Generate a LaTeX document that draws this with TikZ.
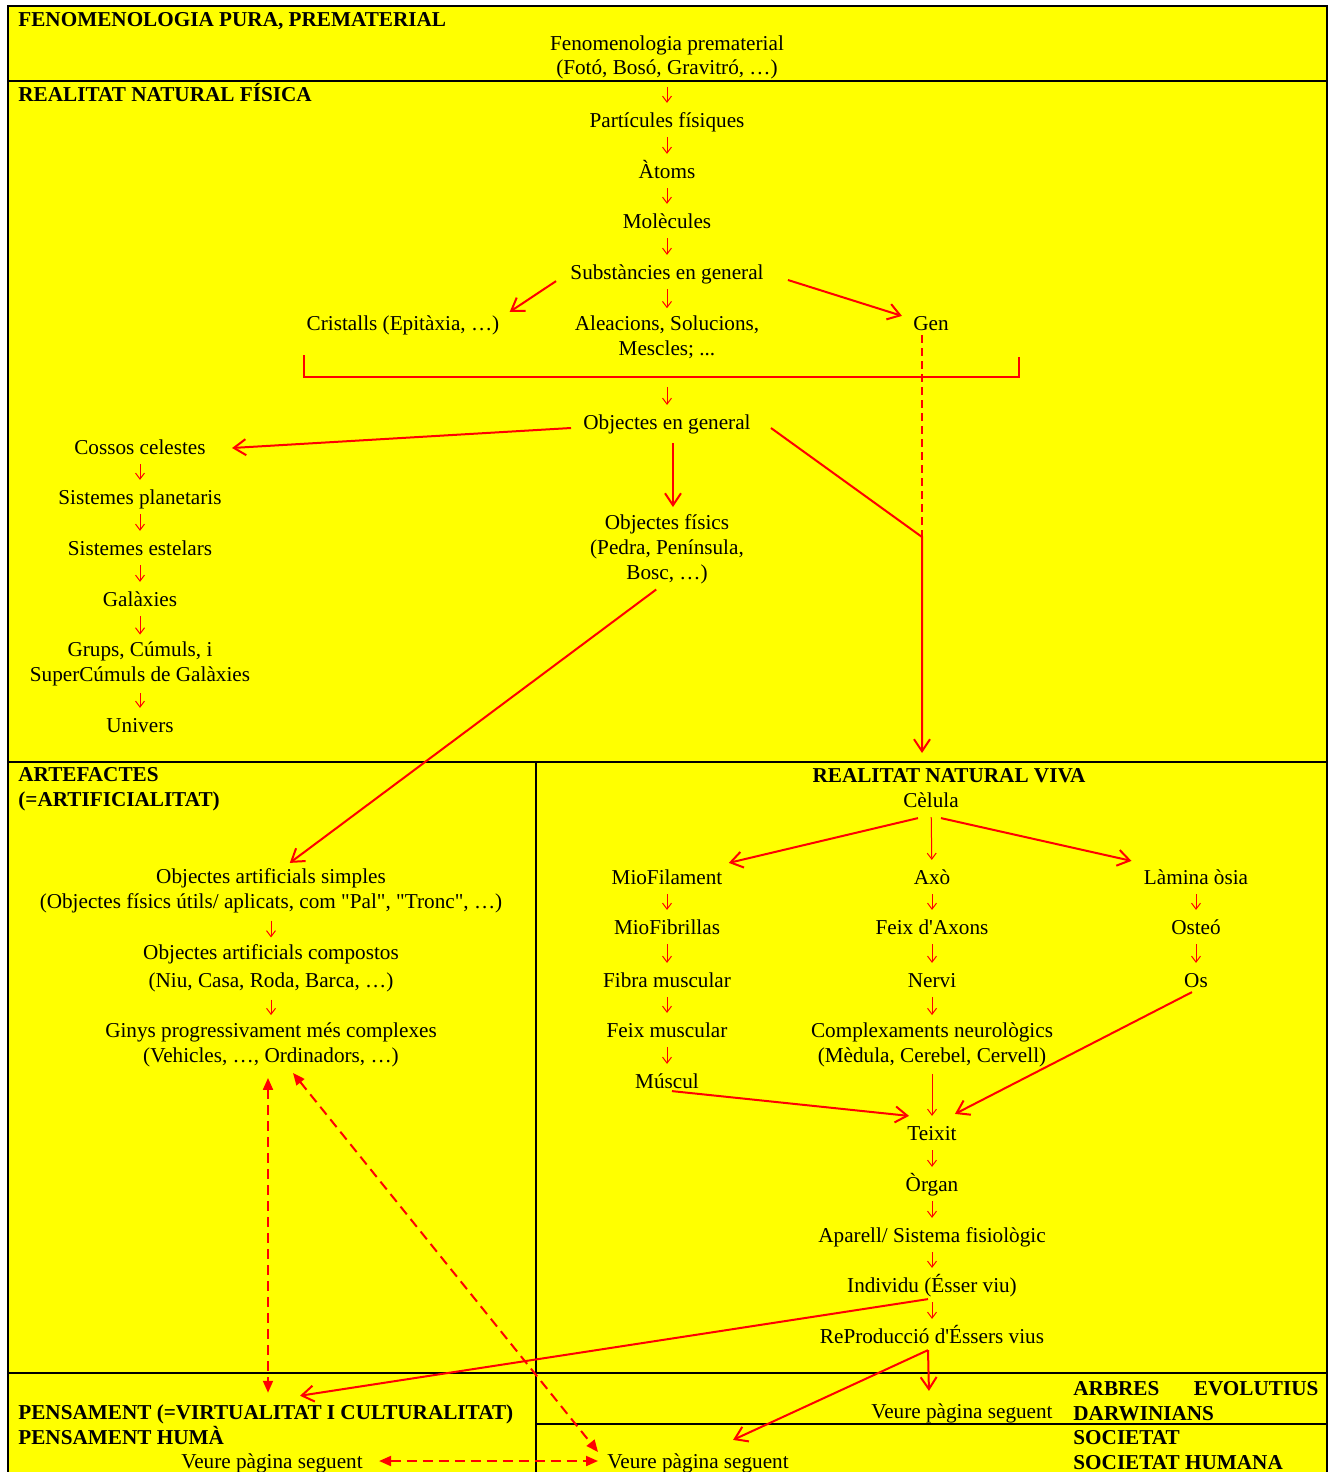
\documentclass[tikz,border=0pt]{standalone}
\usepackage{fontspec}
\setmainfont{Liberation Serif}[Ligatures=TeXOff]
\usetikzlibrary{arrows.meta,calc}
\definecolor{ylw}{RGB}{255,255,0}
\definecolor{rd}{RGB}{255,0,0}
\tikzset{
  tb/.style={inner sep=1pt, align=center, font=\fontsize{10.6}{12.4}\selectfont},
  t/.style={tb, text height=8.5pt, text depth=1.2pt},
  hdb/.style={inner sep=1pt, font=\fontsize{10.6}{12.4}\selectfont\bfseries},
  hd/.style={hdb, text height=8.5pt, text depth=1.2pt},
  sarr/.style={draw=rd, line width=0.5pt, -{Straight Barb[length=3pt,width=4.5pt]}, shorten <=2.5pt, shorten >=2.5pt},
  barr/.style={draw=rd, line width=1pt, -{Straight Barb[length=6pt,width=8pt]}},
  dline/.style={draw=rd, line width=1pt, dash pattern=on 4pt off 2.5pt},
  darr/.style={draw=rd, line width=1pt, dash pattern=on 5pt off 3pt, {Triangle[length=6pt,width=5pt]}-{Triangle[length=6pt,width=5pt]}},
  grid/.style={draw=black, line width=1.1pt},
}
\begin{document}
\begin{tikzpicture}[x=0.5pt,y=-0.5pt]
\useasboundingbox (0,0) rectangle (1328,1472);
\fill[ylw] (8,6) rectangle (1327,1472);
% grid lines
\draw[grid] (8,1472) -- (8,6) -- (1327,6) -- (1327,1472);
\draw[grid] (8,81) -- (1327,81);
\draw[grid] (8,762) -- (1327,762);
\draw[grid] (536,762) -- (536,1472);
\draw[grid] (8,1373) -- (1327,1373);
\draw[grid] (536,1424) -- (1327,1424);

% headings
\node[hd, anchor=west] (h1) at (16,19) {FENOMENOLOGIA PURA, PREMATERIAL};
\node[hd, anchor=west] (h2) at (16,94) {REALITAT NATURAL FÍSICA};
\node[hdb, anchor=west, align=left] (h3) at (16,789.5) {ARTEFACTES\\(=ARTIFICIALITAT)};
\node[hd] (h4) at (949,775) {REALITAT NATURAL VIVA};
\node[hdb, anchor=west, align=left] (h5) at (16,1425) {PENSAMENT (=VIRTUALITAT I CULTURALITAT)\\PENSAMENT HUMÀ};
\node[hdb, anchor=west, align=left, text width=122.5pt, inner sep=0pt] (h6) at (1073,1401) {ARBRES\hfill EVOLUTIUS\\DARWINIANS};
\node[hdb, anchor=west, align=left] (h7) at (1071,1450) {SOCIETAT\\SOCIETAT HUMANA};

% physical reality
\node[tb] (fen) at (667,57.5) {Fenomenologia prematerial\\(Fotó, Bosó, Gravitró, …)};
\node[t] (part) at (667,120) {Partícules físiques};
\node[t] (atoms) at (667,171) {Àtoms};
\node[t] (molec) at (667,221) {Molècules};
\node[t] (subst) at (667,272) {Substàncies en general};
\node[t] (crist) at (403,323) {Cristalls (Epitàxia, …)};
\node[tb] (alea) at (667,337) {Aleacions, Solucions,\\Mescles; ...};
\node[t] (gen) at (931,323) {Gen};
\node[t] (objg) at (667,422) {Objectes en general};
\node[t] (cossos) at (140,447) {Cossos celestes};
\node[t] (splan) at (140,497) {Sistemes planetaris};
\node[t] (sest) at (140,548) {Sistemes estelars};
\node[t] (gal) at (140,599) {Galàxies};
\node[tb] (grups) at (140,664) {Grups, Cúmuls, i\\SuperCúmuls de Galàxies};
\node[t] (univ) at (140,725) {Univers};
\node[tb] (objf) at (667,549) {Objectes físics\\(Pedra, Península,\\Bosc, …)};

% artefacts
\node[tb] (oas) at (271,891) {Objectes artificials simples\\(Objectes físics útils/ aplicats, com "Pal", "Tronc", …)};
\node[tb] (oac) at (271,968.5) {Objectes artificials compostos\\[1.5pt](Niu, Casa, Roda, Barca, …)};
\node[tb] (ginys) at (271,1044.5) {Ginys progressivament més complexes\\(Vehicles, …, Ordinadors, …)};

% living reality
\node[t] (celula) at (931,800) {Cèlula};
\node[t] (miofil) at (667,877) {MioFilament};
\node[t] (miofib) at (667,927) {MioFibrillas};
\node[t] (fibra) at (667,980) {Fibra muscular};
\node[t] (feixm) at (667,1030) {Feix muscular};
\node[t] (muscul) at (667,1081) {Múscul};
\node[t] (axo) at (932,877) {Axò};
\node[t] (feixa) at (932,927) {Feix d'Axons};
\node[t] (nervi) at (932,980) {Nervi};
\node[tb] (compl) at (932,1044.5) {Complexaments neurològics\\(Mèdula, Cerebel, Cervell)};
\node[t] (lamina) at (1196,877) {Làmina òsia};
\node[t] (osteo) at (1196,927) {Osteó};
\node[t] (os) at (1196,980) {Os};
\node[t] (teixit) at (932,1133) {Teixit};
\node[t] (organ) at (932,1184) {Òrgan};
\node[t] (aparell) at (932,1235) {Aparell/ Sistema fisiològic};
\node[t] (indiv) at (932,1285) {Individu (Ésser viu)};
\node[t] (repro) at (932,1336) {ReProducció d'Éssers vius};

% bottom
\node[t] (vp1) at (272,1461) {Veure pàgina seguent};
\node[t, anchor=east] (vp2) at (1055,1411) {Veure pàgina seguent};
\node[t, anchor=west] (vp3) at (605,1461) {Veure pàgina seguent};

% bracket
\draw[draw=rd, line width=1pt] (304,355) -- (304,377) -- (1019,377) -- (1019,357);
\coordinate (brk) at (667,377);
\coordinate (j) at (922,537);
\coordinate (vt) at (922,753);

% small arrows
\foreach \a/\b in {fen/part, part/atoms, atoms/molec, molec/subst, subst/alea,
  cossos/splan, splan/sest, sest/gal, gal/grups, grups/univ,
  oas/oac, oac/ginys,
  celula/axo, axo/feixa, feixa/nervi, nervi/compl, compl/teixit,
  miofil/miofib, miofib/fibra, fibra/feixm, feixm/muscul,
  lamina/osteo, osteo/os,
  teixit/organ, organ/aparell, aparell/indiv, indiv/repro}
  \draw[sarr] (\a) -- (\b);
\draw[sarr, shorten <=5pt] (brk) -- (objg);

% big arrows
\draw[barr] ($(subst.south west)+(-12,-3)$) -- ($(crist.north east)+(8,1)$);
\draw[barr] ($(subst.east)+(22,8)$) -- ($(gen.north west)+(-9,5)$);
\draw[dline] ($(gen.south)+(-9,0)$) -- (j);
\draw[barr] ($(objg.east)+(18,6)$) -- (j) -- (vt);
\draw[barr] ($(objg.west)+(-10,6)$) -- ($(cossos.east)+(24,1)$);
\draw[barr, shorten <=4.5pt, shorten >=2.5pt] ($(objg.south)+(6,0)$) -- ($(objf.north)+(6,0)$);
\draw[barr, shorten <=3pt, shorten >=3pt] ($(objf.south)+(-6,0)$) -- ($(oas.north)+(14,0)$);
\draw[barr] ($(celula.south)+(-13,6)$) -- ($(miofil.north east)+(4,-2)$);
\draw[barr] ($(celula.south)+(10,6)$) -- ($(lamina.north west)+(-10,-4)$);
\draw[barr] ($(muscul.south)+(5,-2)$) -- ($(teixit.north west)+(4,-5)$);
\draw[barr] ($(os.south)+(-4,0)$) -- ($(teixit.north east)+(-4,-7)$);
\draw[barr] ($(indiv.south)+(-4,2)$) -- ($(h5.north west)+(284,-7)$);
\draw[barr] ($(repro.south)+(-4,2)$) -- ($(vp2.north)+(-33,-8)$);
\draw[barr] ($(repro.south)+(-4,2)$) -- ($(vp3.north)+(35,-9)$);

% dashed double arrows
\draw[darr] ($(ginys.south)+(-3,9)$) -- ($(h5.north west)+(252,-10)$);
\draw[darr] ($(ginys.south)+(22,4)$) -- ($(vp3.west)+(-7,-9)$);
\draw[darr] ($(vp1.east)+(14,0)$) -- ($(vp3.west)+(-7,0)$);
\end{tikzpicture}
\end{document}
